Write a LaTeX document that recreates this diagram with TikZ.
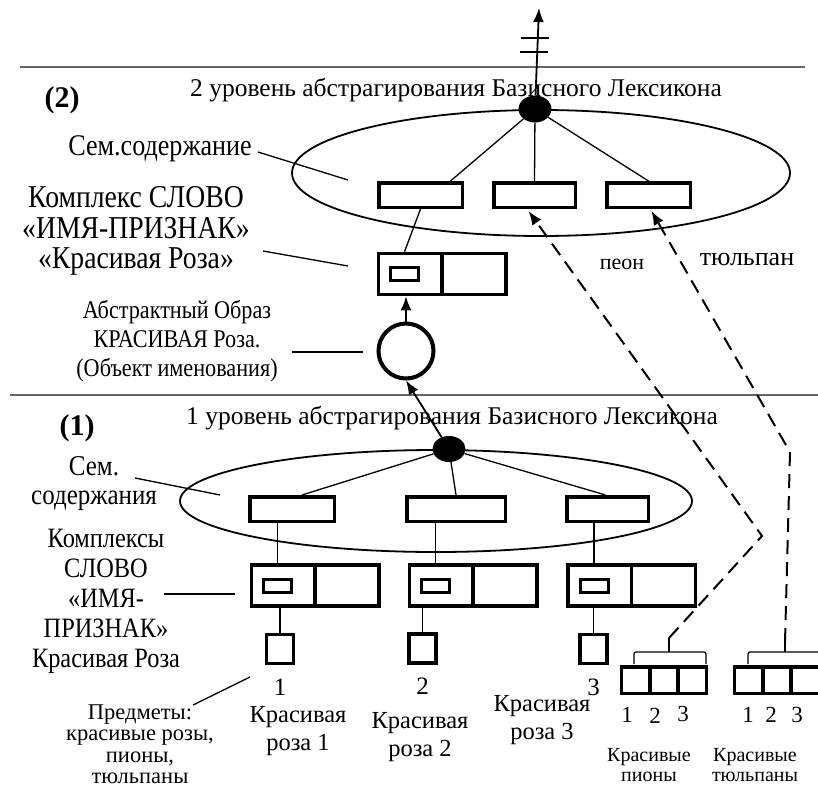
\documentclass[tikz,border=0pt]{standalone}
\usepackage{fontspec}
\setmainfont{Liberation Serif}
\newfontfamily\narrowfont{Liberation Serif}[FakeStretch=0.87]
\usetikzlibrary{shapes.geometric,arrows.meta,positioning,calc}

\begin{document}
\begin{tikzpicture}[x=1pt,y=-1pt,
  levelno/.style={font=\bfseries\fontsize{30}{30}\selectfont},
  ttl/.style={font=\fontsize{25.5}{30}\selectfont},
  cplxlabel/.style={align=center,font=\narrowfont\fontsize{31.8}{30.5}\selectfont},
  cplxlabelsm/.style={align=center,font=\narrowfont\fontsize{28}{30}\selectfont},
  semlabel/.style={align=center,font=\narrowfont\fontsize{28.7}{29}\selectfont},
  imglabel/.style={align=center,font=\narrowfont\fontsize{25.5}{29}\selectfont},
  roselabel/.style={align=center,font=\fontsize{24.5}{28}\selectfont},
  itemlabel/.style={align=center,font=\fontsize{22.5}{21.5}\selectfont},
  grouplabel/.style={align=center,font=\fontsize{20}{20}\selectfont},
  numlabel/.style={font=\fontsize{25}{25}\selectfont},
  numlabelsm/.style={font=\fontsize{23}{23}\selectfont},
  sembox/.style={draw,line width=3.5pt,inner sep=0pt,minimum width=#1,minimum height=24.5pt},
  sembox/.default=83.5pt,
  cplx/.style={draw,line width=3.5pt,inner sep=0pt,minimum width=127.5pt,minimum height=41pt},
  inbox/.style={draw,line width=3pt,inner sep=0pt,minimum width=28pt,minimum height=13pt},
  objbox/.style={draw,line width=3.5pt,inner sep=0pt,minimum width=27pt,minimum height=29pt},
  cell/.style={draw,line width=3.5pt,inner sep=0pt,outer sep=0pt,minimum width=28.2pt,minimum height=26.5pt},
  knot/.style={ellipse,fill=black,inner sep=0pt,minimum width=33pt,minimum height=27pt},
  semfield/.style={draw,ellipse,line width=1.8pt,inner sep=0pt},
  thickline/.style={line width=3.5pt},
  conn/.style={line width=1.3pt},
  arrow/.style={-{Latex[length=14pt,width=11pt]},line width=1.8pt},
  dasharrow/.style={arrow,line width=2pt,dash pattern=on 14pt off 8pt},
  divider/.style={draw=black!60,line width=1.5pt}
]
\useasboundingbox (0,0) rectangle (818,792);
\clip (0,0) rectangle (818,792);

% level borders
\draw[divider] (20,67) -- (805,67);
\draw[divider] (10,395) -- (818,395);

% ---- level 2 ----
\node[levelno] (no2) at (62,100) {(2)};
\node[ttl] (title2) at (456,90) {2 уровень абстрагирования Базисного Лексикона};
\node[semlabel,font=\narrowfont\fontsize{30}{29}\selectfont] (sem2) at (160,149) {Сем.содержание};
\node[cplxlabel] (kompl2) at (136,231) {Комплекс СЛОВО\\«ИМЯ-ПРИЗНАК»\\«Красивая Роза»};
\node[imglabel] (obraz) at (177,341) {Абстрактный Образ\\КРАСИВАЯ Роза.\\(Объект именования)};
\node[font=\fontsize{22}{22}\selectfont] (peon) at (622,264) {пеон};
\node[font=\fontsize{26}{26}\selectfont] (tulp) at (747,259) {тюльпан};

\node[semfield,minimum width=498pt,minimum height=126pt] (field2) at (541,173) {};
\node[sembox] (u1) at (420.5,195) {};
\node[sembox=81.5pt] (u2) at (534.5,195) {};
\node[sembox] (u3) at (648.5,195) {};
\node[knot] (dot2) at (535,109) {};
\coordinate (top) at (539,8);
\draw[arrow] (dot2) -- (top);
\path (dot2.center) -- (top) coordinate[pos=0.703] (tick1) coordinate[pos=0.564] (tick2);
\draw[conn] ([xshift=-17pt]tick1) -- ([xshift=11pt]tick1);
\draw[conn] ([xshift=-17pt]tick2) -- ([xshift=11pt]tick2);
\draw[conn] (dot2) -- ([xshift=30pt]u1.north);
\draw[conn] (dot2) -- (u2.north);
\draw[conn] (dot2) -- (u3.north);

\node[cplx] (cu) at (442,274) {};
\draw[thickline] (cu.north) -- (cu.south);
\node[inbox] (cui) at ([xshift=28pt]cu.west) {};
\draw[conn] (u1.south) -- (cui |- cu.north);
\node[draw,circle,line width=4pt,inner sep=0pt,minimum size=55pt] (image) at (406,351) {};
\draw[arrow] (image) -- (image |- cu.south);

\coordinate (sem2a) at (258,152);
\coordinate (sem2end) at (348,180);
\draw[conn] (sem2a) -- (sem2end);
\coordinate (kompl2a) at (263,251);
\coordinate (kompl2end) at (348,266);
\draw[conn] (kompl2a) -- (kompl2end);
\coordinate (obraza) at (292,352);
\coordinate (obrazend) at (363,352);
\draw[conn] (obraza) -- (obrazend);

% ---- level 1 ----
\node[levelno] (no1) at (77,428) {(1)};
\node[ttl] (title1) at (452,418) {1 уровень абстрагирования Базисного Лексикона};
\node[semlabel] (sem1) at (94,484) {Сем.\\содержания};
\node[cplxlabelsm] (kompl1) at (106,601) {Комплексы\\СЛОВО\\«ИМЯ-\\ПРИЗНАК»\\Красивая Роза};
\node[itemlabel] (items) at (140,744) {Предметы:\\красивые розы,\\пионы,\\тюльпаны};

\node[semfield,minimum width=512pt,minimum height=102pt] (field1) at (436,501) {};
\node[sembox=84.5pt] (l1) at (292,509) {};
\node[sembox=98.5pt] (l2) at (456,509) {};
\node[sembox=81.5pt] (l3) at (607.5,509) {};
\node[knot,minimum height=26pt] (dot1) at (449,449) {};
\draw[arrow] (dot1) -- (image.south);
\draw[conn] (dot1) -- ([xshift=10pt]l1.north);
\draw[conn] (dot1) -- (l2.north);
\draw[conn] (dot1) -- ([xshift=-2pt]l3.north);

\node[cplx] (c1) at (315,585.5) {};
\node[cplx] (c2) at (473,585.5) {};
\node[cplx] (c3) at (631.5,585.5) {};
\draw[thickline] (c1.north) -- (c1.south);
\draw[thickline] (c2.north) -- (c2.south);
\draw[thickline] (c3.north) -- (c3.south);
\node[inbox] (c1i) at ([xshift=28pt]c1.west) {};
\node[inbox] (c2i) at ([xshift=28pt]c2.west) {};
\node[inbox] (c3i) at ([xshift=28pt]c3.west) {};
\draw[conn] (c1i |- l1.south) -- (c1i |- c1.north);
\draw[conn] (c2i |- l2.south) -- (c2i |- c2.north);
\draw[conn] (c3i |- l3.south) -- (c3i |- c3.north);

\node[objbox] (s1) at (280,649) {};
\node[objbox] (s2) at (422.5,648.5) {};
\node[objbox] (s3) at (593.5,649) {};
\draw[conn] (s1 |- c1.south) -- (s1.north);
\draw[conn] (s2 |- c2.south) -- (s2.north);
\draw[conn] (s3 |- c3.south) -- (s3.north);
\node[numlabel,below=10pt of s1] (n1) {1};
\node[numlabel,below=10pt of s2] (n2) {2};
\node[numlabel,below=10pt of s3] (n3) {3};
\node[roselabel] (rose1) at (298,731) {Красивая\\роза 1};
\node[roselabel] (rose2) at (420,737) {Красивая\\роза 2};
\node[roselabel] (rose3) at (542,720) {Красивая\\роза 3};

\coordinate (sem1a) at (135,478);
\coordinate (sem1end) at (220,495);
\draw[conn] (sem1a) -- (sem1end);
\coordinate (kompl1a) at (164,594);
\coordinate (kompl1end) at (235,594);
\draw[conn] (kompl1a) -- (kompl1end);
\coordinate (itemsa) at (193,705);
\coordinate (itemsend) at (250,677);
\draw[conn] (itemsa) -- (itemsend);

% peonies and tulips
\node[cell] (p1) at (635.8,680) {};
\node[cell,right=0pt of p1] (p2) {};
\node[cell,right=0pt of p2] (p3) {};
\node[cell] (t1) at (748.8,680) {};
\node[cell,right=0pt of t1] (t2) {};
\node[cell,right=0pt of t2] (t3) {};
\node[numlabelsm] at (627,715) (pn1) {1};
\node[numlabelsm] at (655,716) (pn2) {2};
\node[numlabelsm] at (683,714) (pn3) {3};
\node[numlabelsm] at (748,715) (tn1) {1};
\node[numlabelsm] at (771,715) (tn2) {2};
\node[numlabelsm] at (797,715) (tn3) {3};
\node[grouplabel] (peons) at (649,765) {Красивые\\пионы};
\node[grouplabel] (tulips) at (755,765) {Красивые\\тюльпаны};

\draw[conn,rounded corners=2pt] (634,664) -- (634,652) -- (706,652) -- (706,664);
\coordinate (pbrace) at (669,638);
\draw[conn] (pbrace) -- ++(0,14);
\draw[conn,rounded corners=2pt] (748,664) -- (748,652) -- (830,652);
\coordinate (tbrace) at (785,642);
\draw[conn] (tbrace) -- ++(0,10);

\coordinate (pbend) at (762,536);
\draw[dasharrow] (pbrace) -- (pbend) -- ([xshift=-6pt,yshift=-2pt]u2.south);
\coordinate (tbend) at (790,452);
\draw[dasharrow] (tbrace) -- (tbend) -- ([xshift=3pt,yshift=-2pt]u3.south);
\end{tikzpicture}
\end{document}
